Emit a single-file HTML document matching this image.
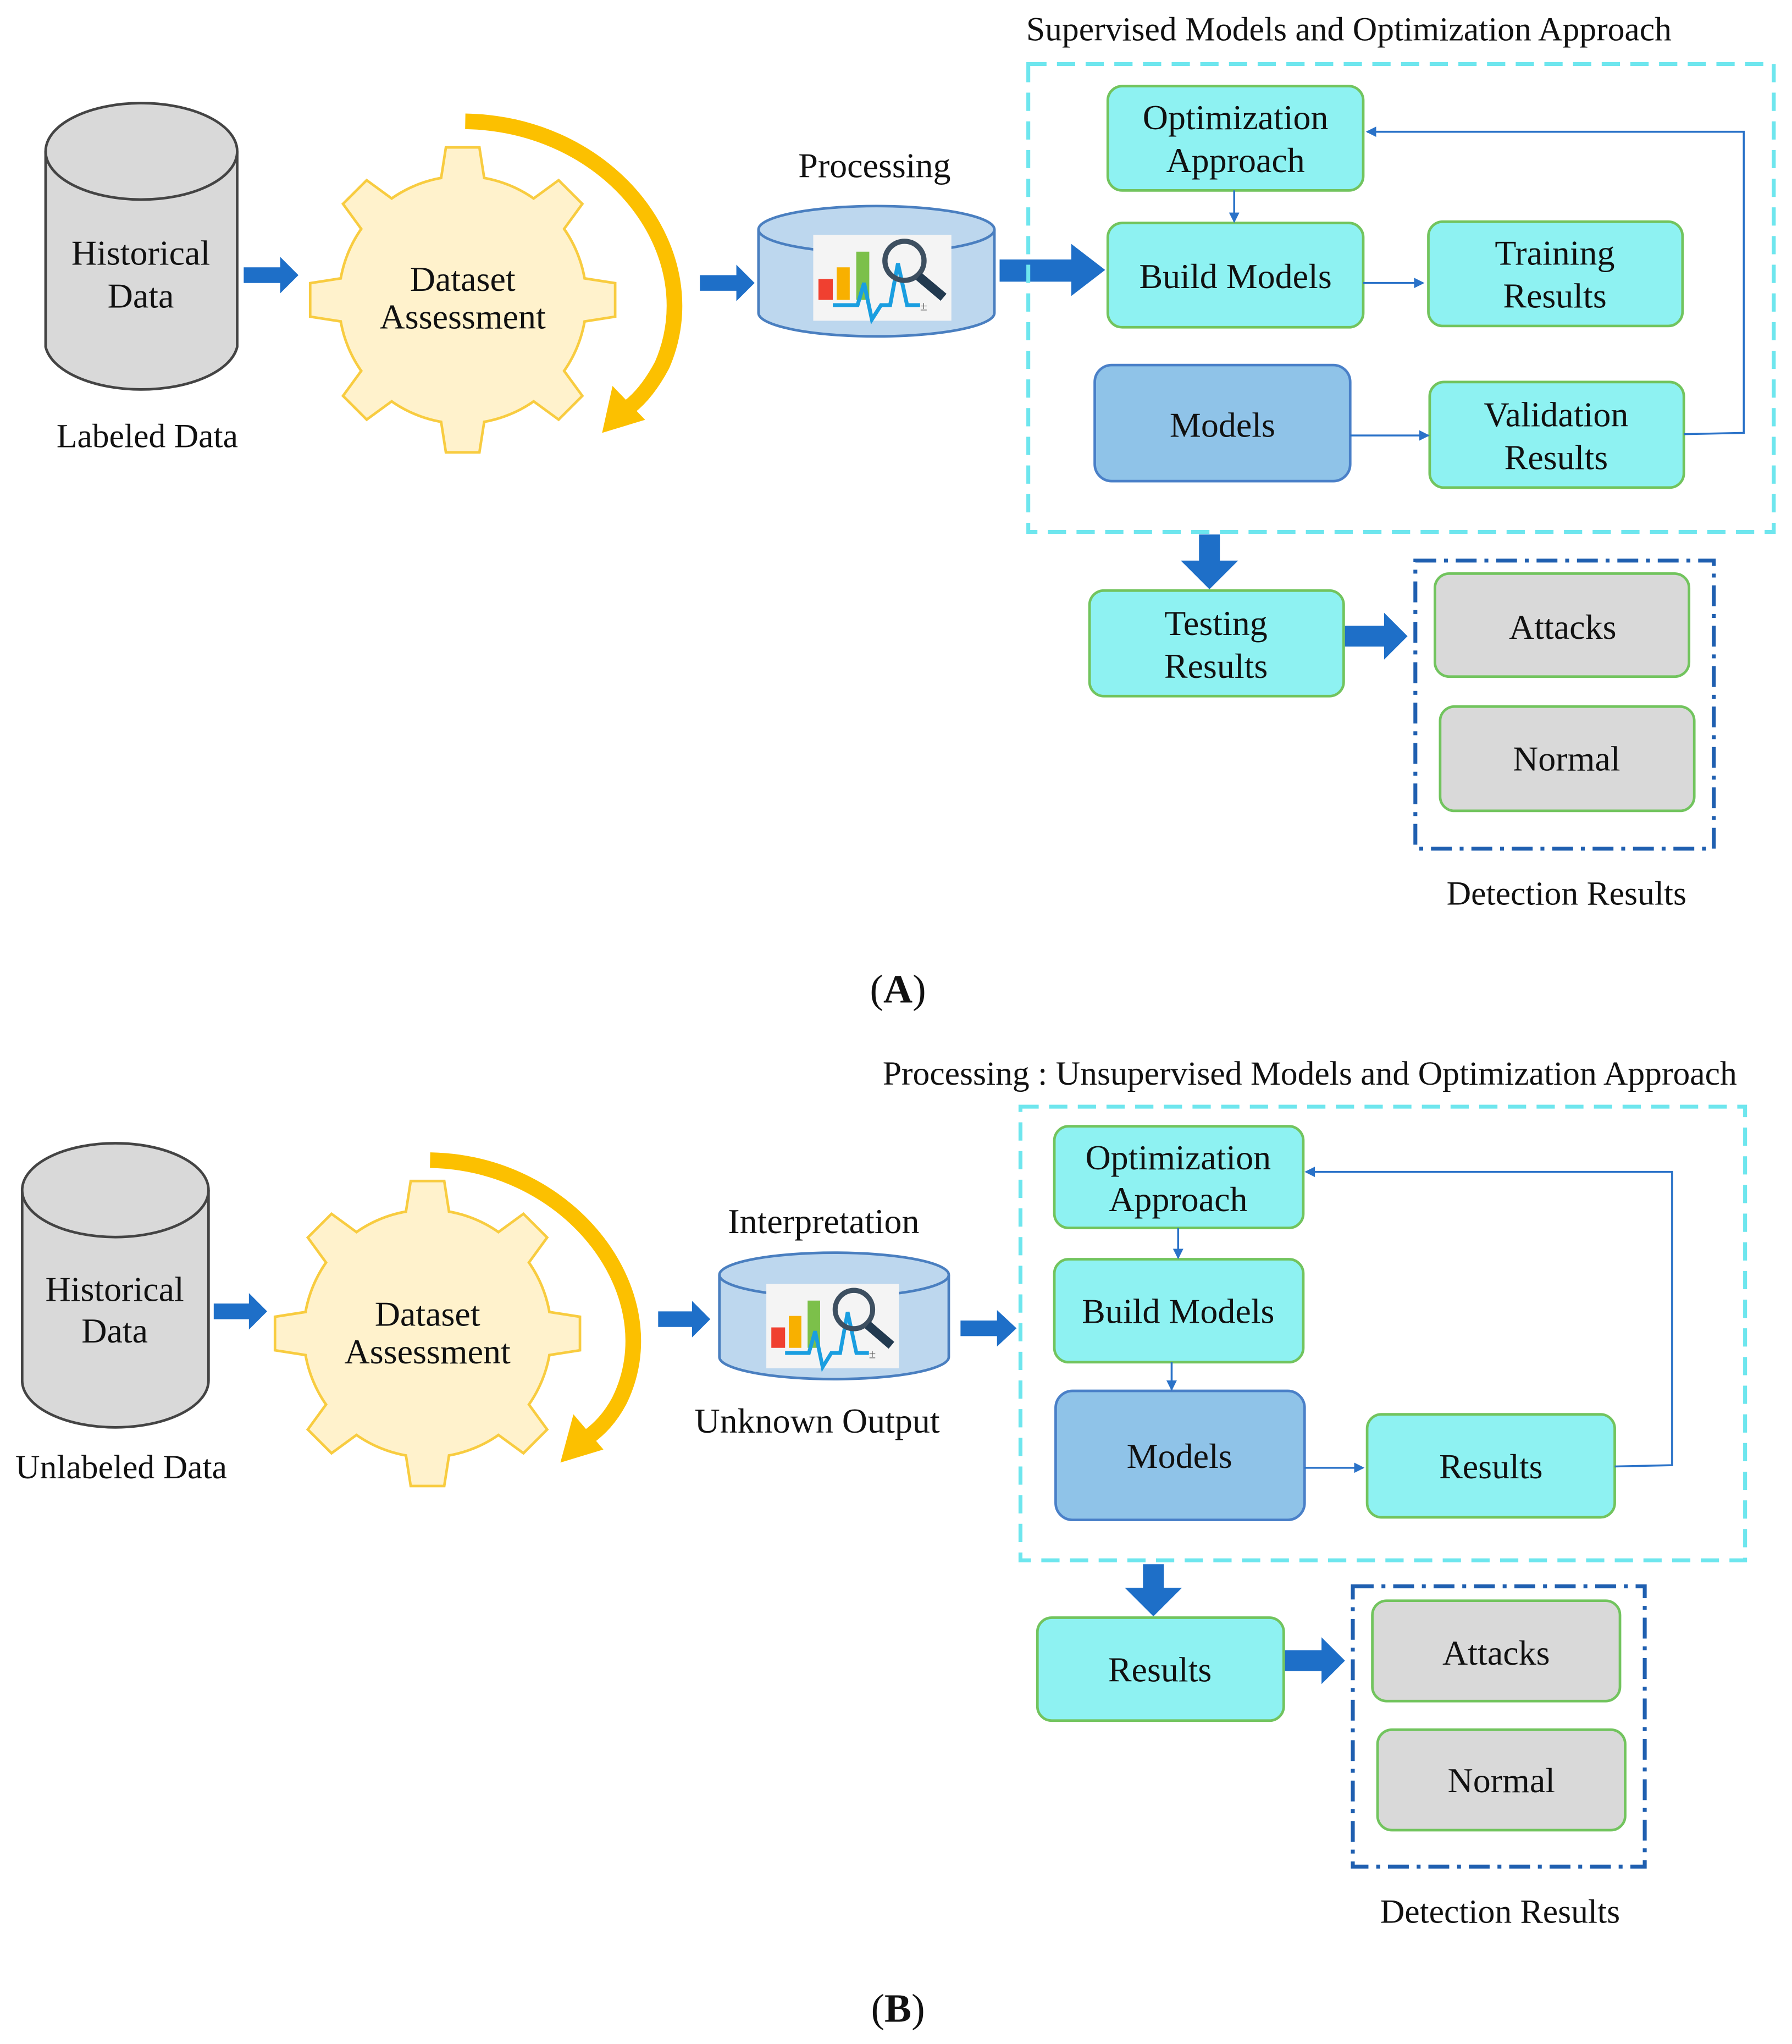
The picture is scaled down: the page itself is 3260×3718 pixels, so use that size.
<!DOCTYPE html>
<html><head><meta charset="utf-8"><style>
html,body{margin:0;padding:0;background:#fff;}
svg{display:block;}
svg text{font-family:"Liberation Serif","Times New Roman",serif !important;fill:#111;}
</style></head><body>
<svg width="3260" height="3718" viewBox="0 0 1375 1568" xmlns="http://www.w3.org/2000/svg" font-family="Liberation Serif, Times New Roman, serif">
<defs>
<marker id="ah" markerWidth="8" markerHeight="8" refX="7" refY="4" orient="auto" markerUnits="userSpaceOnUse"><path d="M0,0 L8,4 L0,8 Z" fill="#2a72c8"/></marker>
<g id="icon">
<rect x="0" y="0" width="106" height="66" fill="#f4f4f4"/>
<rect x="4" y="34" width="11" height="16" fill="#f04030"/>
<rect x="18" y="25" width="10" height="25" fill="#f8b000"/>
<rect x="33" y="13" width="10" height="37" fill="#7cc04a"/>
<polyline points="15,54 34,54 39,37 45,65 52,54 59,54 65,22 72,54 82,54" fill="none" stroke="#1a9ee0" stroke-width="3"/>
<circle cx="70" cy="20" r="15" fill="none" stroke="#3d4f60" stroke-width="4"/>
<line x1="81" y1="32" x2="100" y2="48" stroke="#223a50" stroke-width="7"/>
<text x="82" y="58" font-size="10" font-family="Liberation Sans, sans-serif" style="fill:#555">±</text>
</g>
<g id="gearshape">
<circle r="94"/>
<polygon points="-17,-84 -12,-116 12,-116 17,-84"/>
<polygon points="-17,-84 -12,-116 12,-116 17,-84" transform="rotate(45)"/>
<polygon points="-17,-84 -12,-116 12,-116 17,-84" transform="rotate(90)"/>
<polygon points="-17,-84 -12,-116 12,-116 17,-84" transform="rotate(135)"/>
<polygon points="-17,-84 -12,-116 12,-116 17,-84" transform="rotate(180)"/>
<polygon points="-17,-84 -12,-116 12,-116 17,-84" transform="rotate(225)"/>
<polygon points="-17,-84 -12,-116 12,-116 17,-84" transform="rotate(270)"/>
<polygon points="-17,-84 -12,-116 12,-116 17,-84" transform="rotate(315)"/>
</g>
</defs>

<!-- ================= A ================= -->
<text x="1035" y="31" font-size="26" text-anchor="middle">Supervised Models and Optimization Approach</text>

<path d="M35,116 L35,266 A74,37 0 0 0 182,266 L182,116" fill="#d9d9d9" stroke="#444" stroke-width="2"/>
<ellipse cx="108.5" cy="116" rx="73.5" ry="37" fill="#d9d9d9" stroke="#444" stroke-width="2"/>
<text x="108" y="203" font-size="27" text-anchor="middle">Historical</text>
<text x="108" y="236" font-size="27" text-anchor="middle">Data</text>
<text x="113" y="343" font-size="26" text-anchor="middle">Labeled Data</text>

<g transform="translate(355,230)">
<use href="#gearshape" fill="#f8cc40" stroke="#f8cc40" stroke-width="4"/>
<use href="#gearshape" fill="#fff2cc"/>
</g>
<text x="355" y="223" font-size="27" text-anchor="middle">Dataset</text>
<text x="355" y="252" font-size="27" text-anchor="middle">Assessment</text>
<path d="M357,93 C470,95 545,195 508,280 C500,295 492,305 483,312" fill="none" stroke="#fcc000" stroke-width="12"/>
<polygon points="470,296 495,322 462,332" fill="#fcc000"/>

<polygon points="187,205 215,205 215,197 229,211 215,225 215,217 187,217" fill="#1e6fc8"/>
<polygon points="537,211 565,211 565,203 579,217 565,231 565,223 537,223" fill="#1e6fc8"/>
<polygon points="767,199 822,199 822,187 848,207 822,227 822,216 767,216" fill="#1e6fc8"/>

<text x="671" y="136" font-size="27" text-anchor="middle">Processing</text>
<path d="M582,176 L582,240 A90.5,18 0 0 0 763,240 L763,176" fill="#bdd7ee" stroke="#4a7fc0" stroke-width="2"/>
<ellipse cx="672.5" cy="176" rx="90.5" ry="18" fill="#bdd7ee" stroke="#4a7fc0" stroke-width="2"/>
<use href="#icon" x="624" y="180"/>

<rect x="789" y="49" width="572" height="359" fill="none" stroke="#6ee6ee" stroke-width="3" stroke-dasharray="14,8"/>
<rect x="850" y="66" width="196" height="80" rx="11" fill="#8ef2f2" stroke="#72c45e" stroke-width="2"/>
<text x="948" y="99" font-size="27" text-anchor="middle">Optimization</text>
<text x="948" y="132" font-size="27" text-anchor="middle">Approach</text>
<rect x="850" y="171" width="196" height="80" rx="11" fill="#8ef2f2" stroke="#72c45e" stroke-width="2"/>
<text x="948" y="221" font-size="27" text-anchor="middle">Build Models</text>
<rect x="1096" y="170" width="195" height="80" rx="11" fill="#8ef2f2" stroke="#72c45e" stroke-width="2"/>
<text x="1193" y="203" font-size="27" text-anchor="middle">Training</text>
<text x="1193" y="236" font-size="27" text-anchor="middle">Results</text>
<rect x="840" y="280" width="196" height="89" rx="13" fill="#8fc3e8" stroke="#4a80c8" stroke-width="2"/>
<text x="938" y="335" font-size="27" text-anchor="middle">Models</text>
<rect x="1097" y="293" width="195" height="81" rx="11" fill="#8ef2f2" stroke="#72c45e" stroke-width="2"/>
<text x="1194" y="327" font-size="27" text-anchor="middle">Validation</text>
<text x="1194" y="360" font-size="27" text-anchor="middle">Results</text>
<line x1="947" y1="146" x2="947" y2="170" stroke="#2a72c8" stroke-width="1.5" marker-end="url(#ah)"/>
<line x1="1046" y1="217" x2="1092" y2="217" stroke="#2a72c8" stroke-width="1.5" marker-end="url(#ah)"/>
<line x1="1036" y1="334" x2="1096" y2="334" stroke="#2a72c8" stroke-width="1.5" marker-end="url(#ah)"/>
<polyline points="1292,333 1338,332 1338,101 1049,101" fill="none" stroke="#2a72c8" stroke-width="1.5" marker-end="url(#ah)"/>

<polygon points="920,410 936,410 936,430 950,430 928,452 906,430 920,430" fill="#1e6fc8"/>
<rect x="836" y="453" width="195" height="81" rx="11" fill="#8ef2f2" stroke="#72c45e" stroke-width="2"/>
<text x="933" y="487" font-size="27" text-anchor="middle">Testing</text>
<text x="933" y="520" font-size="27" text-anchor="middle">Results</text>
<polygon points="1032,480 1062,480 1062,470 1080,488 1062,506 1062,496 1032,496" fill="#1e6fc8"/>

<rect x="1086" y="430" width="229" height="221" fill="none" stroke="#1f5fb0" stroke-width="3" stroke-dasharray="16,6,3,6"/>
<rect x="1101" y="440" width="195" height="79" rx="11" fill="#d9d9d9" stroke="#72c45e" stroke-width="2"/>
<text x="1199" y="490" font-size="27" text-anchor="middle">Attacks</text>
<rect x="1105" y="542" width="195" height="80" rx="11" fill="#d9d9d9" stroke="#72c45e" stroke-width="2"/>
<text x="1202" y="591" font-size="27" text-anchor="middle">Normal</text>
<text x="1202" y="694" font-size="26" text-anchor="middle">Detection Results</text>
<text x="689" y="769" font-size="31" text-anchor="middle">(<tspan font-weight="bold">A</tspan>)</text>

<!-- ================= B ================= -->
<text x="1005" y="832" font-size="26" text-anchor="middle">Processing : Unsupervised Models and Optimization Approach</text>

<path d="M17,913 L17,1059 A71.5,36 0 0 0 160,1059 L160,913" fill="#d9d9d9" stroke="#444" stroke-width="2"/>
<ellipse cx="88.5" cy="913" rx="71.5" ry="36" fill="#d9d9d9" stroke="#444" stroke-width="2"/>
<text x="88" y="998" font-size="27" text-anchor="middle">Historical</text>
<text x="88" y="1030" font-size="27" text-anchor="middle">Data</text>
<text x="93" y="1134" font-size="26" text-anchor="middle">Unlabeled Data</text>

<g transform="translate(328,1023)">
<use href="#gearshape" fill="#f8cc40" stroke="#f8cc40" stroke-width="4"/>
<use href="#gearshape" fill="#fff2cc"/>
</g>
<text x="328" y="1017" font-size="27" text-anchor="middle">Dataset</text>
<text x="328" y="1046" font-size="27" text-anchor="middle">Assessment</text>
<path d="M330,890 C440,892 515,995 475,1075 C468,1088 460,1096 452,1102" fill="none" stroke="#fcc000" stroke-width="12"/>
<polygon points="440,1085 463,1112 430,1122" fill="#fcc000"/>

<polygon points="164,1000 191,1000 191,992 205,1006 191,1020 191,1012 164,1012" fill="#1e6fc8"/>
<polygon points="505,1006 531,1006 531,998 545,1012 531,1026 531,1018 505,1018" fill="#1e6fc8"/>
<polygon points="737,1013 765,1013 765,1005 780,1019 765,1033 765,1025 737,1025" fill="#1e6fc8"/>

<text x="632" y="946" font-size="27" text-anchor="middle">Interpretation</text>
<path d="M552,978 L552,1041 A88,17 0 0 0 728,1041 L728,978" fill="#bdd7ee" stroke="#4a7fc0" stroke-width="2"/>
<ellipse cx="640" cy="978" rx="88" ry="17" fill="#bdd7ee" stroke="#4a7fc0" stroke-width="2"/>
<use href="#icon" transform="translate(588,985) scale(0.96,0.98)"/>
<text x="627" y="1099" font-size="27" text-anchor="middle">Unknown Output</text>

<rect x="783" y="849" width="556" height="348" fill="none" stroke="#6ee6ee" stroke-width="3" stroke-dasharray="14,8"/>
<rect x="809" y="864" width="191" height="78" rx="11" fill="#8ef2f2" stroke="#72c45e" stroke-width="2"/>
<text x="904" y="897" font-size="27" text-anchor="middle">Optimization</text>
<text x="904" y="929" font-size="27" text-anchor="middle">Approach</text>
<rect x="809" y="966" width="191" height="79" rx="11" fill="#8ef2f2" stroke="#72c45e" stroke-width="2"/>
<text x="904" y="1015" font-size="27" text-anchor="middle">Build Models</text>
<rect x="810" y="1067" width="191" height="99" rx="13" fill="#8fc3e8" stroke="#4a80c8" stroke-width="2"/>
<text x="905" y="1126" font-size="27" text-anchor="middle">Models</text>
<rect x="1049" y="1085" width="190" height="79" rx="11" fill="#8ef2f2" stroke="#72c45e" stroke-width="2"/>
<text x="1144" y="1134" font-size="27" text-anchor="middle">Results</text>
<line x1="904" y1="942" x2="904" y2="965" stroke="#2a72c8" stroke-width="1.5" marker-end="url(#ah)"/>
<line x1="899" y1="1045" x2="899" y2="1066" stroke="#2a72c8" stroke-width="1.5" marker-end="url(#ah)"/>
<line x1="1001" y1="1126" x2="1046" y2="1126" stroke="#2a72c8" stroke-width="1.5" marker-end="url(#ah)"/>
<polyline points="1239,1125 1283,1124 1283,899 1002,899" fill="none" stroke="#2a72c8" stroke-width="1.5" marker-end="url(#ah)"/>

<polygon points="877,1200 893,1200 893,1218 907,1218 885,1240 863,1218 877,1218" fill="#1e6fc8"/>
<rect x="796" y="1241" width="189" height="79" rx="11" fill="#8ef2f2" stroke="#72c45e" stroke-width="2"/>
<text x="890" y="1290" font-size="27" text-anchor="middle">Results</text>
<polygon points="986,1266 1014,1266 1014,1256 1032,1274 1014,1292 1014,1282 986,1282" fill="#1e6fc8"/>

<rect x="1038" y="1217" width="224" height="215" fill="none" stroke="#1f5fb0" stroke-width="3" stroke-dasharray="16,6,3,6"/>
<rect x="1053" y="1228" width="190" height="77" rx="11" fill="#d9d9d9" stroke="#72c45e" stroke-width="2"/>
<text x="1148" y="1277" font-size="27" text-anchor="middle">Attacks</text>
<rect x="1057" y="1327" width="190" height="77" rx="11" fill="#d9d9d9" stroke="#72c45e" stroke-width="2"/>
<text x="1152" y="1375" font-size="27" text-anchor="middle">Normal</text>
<text x="1151" y="1475" font-size="26" text-anchor="middle">Detection Results</text>
<text x="689" y="1551" font-size="31" text-anchor="middle">(<tspan font-weight="bold">B</tspan>)</text>
</svg>
</body></html>
